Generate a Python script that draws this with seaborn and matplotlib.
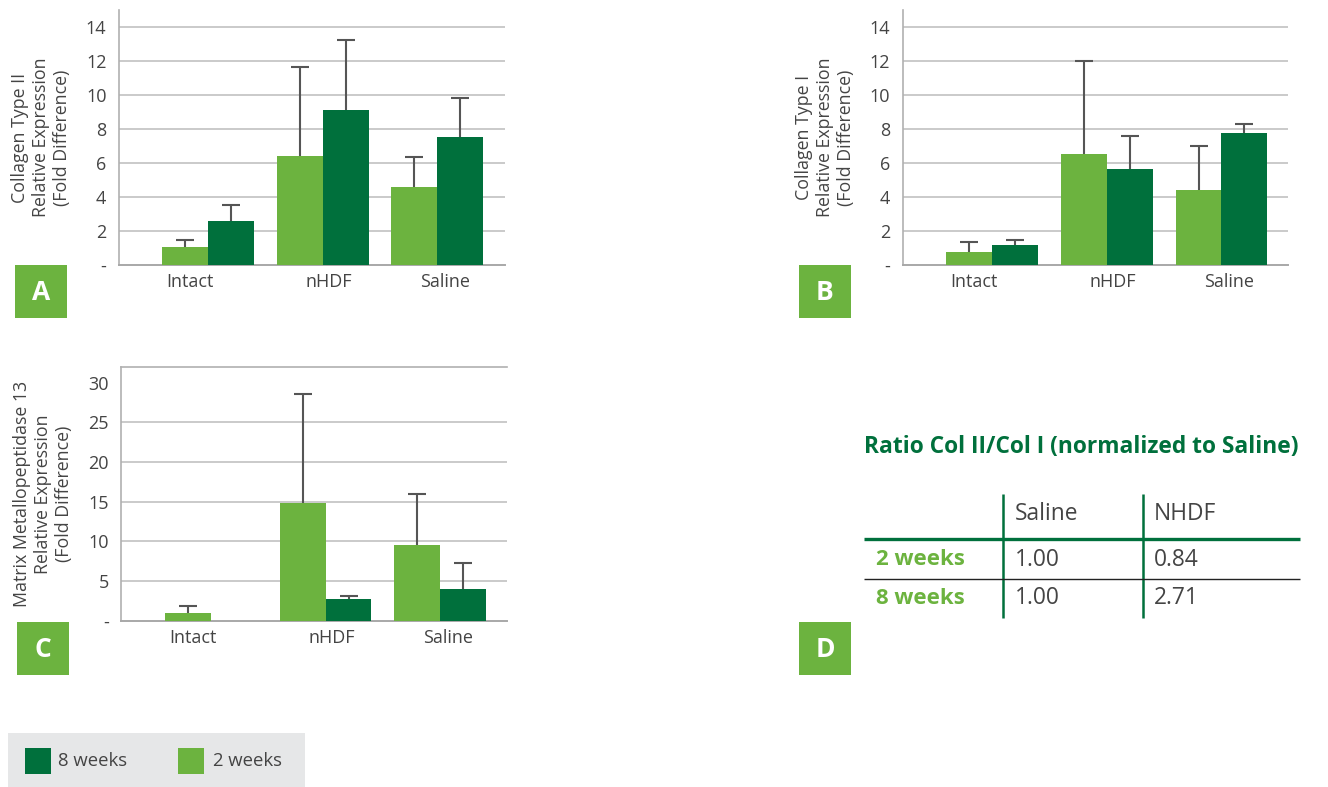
import matplotlib
matplotlib.use("Agg")
import matplotlib.pyplot as plt
from matplotlib.patches import Rectangle
from matplotlib.ticker import FuncFormatter
import numpy as np
import pandas as pd
import seaborn as sns

# ---------------------------------------------------------------- data
sites = ["Intact", "nHDF", "Saline"]
timepoints = ["2 weeks", "8 weeks"]

# Collagen type II (fold difference), mean and upper error
col2_2wk = [1.04, 6.40, 4.56]
col2_2wk_err = [0.46, 5.27, 1.80]
col2_8wk = [2.56, 9.10, 7.52]
col2_8wk_err = [0.96, 4.12, 2.33]

# Collagen type I
col1_2wk = [0.75, 6.52, 4.41]
col1_2wk_err = [0.58, 5.47, 2.60]
col1_8wk = [1.20, 5.62, 7.76]
col1_8wk_err = [0.29, 1.96, 0.52]

# Matrix metallopeptidase 13
mmp_2wk = [1.00, 14.85, 9.55]
mmp_2wk_err = [0.80, 13.80, 6.40]
mmp_8wk = [0.00, 2.75, 4.00]
mmp_8wk_err = [np.nan, 0.40, 3.30]

# Ratio table (panel D)
ratio_rows = ["2 weeks", "8 weeks"]
ratio_cols = ["Saline", "NHDF"]
ratio_vals = [[1.00, 0.84], [1.00, 2.71]]

legend_labels = ["8 weeks", "2 weeks"]

# ---------------------------------------------------------------- style
LIGHT = "#6cb33f"
DARK = "#00703c"
TEXT = "#444444"
GRID = "#c6c6c6"
ERR = "#555555"

sns.set_theme(style="white")
plt.rcParams["font.family"] = ["Open Sans", "DejaVu Sans"]

W, H = 1328, 787
fig = plt.figure(figsize=(W / 100, H / 100), dpi=100)
fig.patch.set_facecolor("white")


def rect(l, t, r, b):
    return [l / W, 1 - b / H, (r - l) / W, (b - t) / H]


def frame(v2, e2, v8, e8):
    rows = []
    for s, a, ea, b, eb in zip(sites, v2, e2, v8, e8):
        rows.append(dict(site=s, time="2 weeks", value=a, err=ea))
        rows.append(dict(site=s, time="8 weeks", value=b, err=eb))
    return pd.DataFrame(rows)


def panel(box, df, ylim, ticks, xlim, ylabel, label_x, hidden_grid=(), top_line=False):
    ax = fig.add_axes(rect(*box))
    sns.barplot(data=df, x="site", y="value", hue="time", order=sites,
                hue_order=timepoints, palette=[LIGHT, DARK], width=0.8,
                errorbar=None, saturation=1, legend=False, ax=ax,
                linewidth=0, zorder=3)
    # upper-only error bars: stem from the bar top plus a single cap
    for level, container in zip(timepoints, ax.containers):
        sub = df[df.time == level].set_index("site").loc[sites]
        for bar, err in zip(container, sub["err"]):
            if np.isnan(err):
                continue
            x = bar.get_x() + bar.get_width() / 2
            top = bar.get_height() + err
            ax.vlines(x, bar.get_height(), top, color=ERR, lw=1.5, zorder=2)
            ax.plot([x], [top], marker="_", markersize=13, mew=1.5,
                    color=ERR, zorder=2)
    ax.set_ylim(*ylim)
    ax.set_xlim(*xlim)
    ax.set_yticks(ticks)
    ax.yaxis.set_major_formatter(
        FuncFormatter(lambda v, p: "-" if v == 0 else f"{v:g}"))
    ax.set_xticks([-0.16, 1.05, 2.07])
    ax.set_xticklabels(sites)
    ax.tick_params(axis="both", length=0, colors=TEXT, labelsize=13)
    ax.tick_params(axis="y", pad=9)
    ax.tick_params(axis="x", pad=6)
    ax.set_xlabel("")
    ax.set_ylabel(ylabel, fontsize=12.8, color=TEXT, linespacing=1.2,
                  va="center", ha="center")
    ax.yaxis.set_label_coords(label_x, 0.5)
    ax.yaxis.grid(True, color=GRID, lw=1.3)
    ax.set_axisbelow(True)
    for i in hidden_grid:
        ax.yaxis.get_gridlines()[i].set_visible(False)
    ax.yaxis.get_gridlines()[0].set_visible(False)
    ax.spines["right"].set_visible(False)
    ax.spines["top"].set_visible(top_line)
    ax.spines["top"].set_color("#b0b0b0")
    ax.spines["top"].set_linewidth(1.2)
    ax.spines["left"].set_color("#b0b0b0")
    ax.spines["left"].set_linewidth(1.2)
    ax.spines["bottom"].set_color("#a8a8a8")
    ax.spines["bottom"].set_linewidth(1.4)
    ax.set_facecolor("none")
    return ax


panel((119, 10, 505, 265), frame(col2_2wk, col2_2wk_err, col2_8wk, col2_8wk_err),
      (0, 15), np.arange(0, 15, 2), (-0.776, 2.59),
      "Collagen Type II\nRelative Expression\n(Fold Difference)", (41 - 119) / 386)
panel((902.7, 10, 1288, 265), frame(col1_2wk, col1_2wk_err, col1_8wk, col1_8wk_err),
      (0, 15), np.arange(0, 15, 2), (-0.779, 2.58),
      "Collagen Type I\nRelative Expression\n(Fold Difference)", (825 - 902.7) / 385.3)
panel((121.3, 367, 506.7, 620.7), frame(mmp_2wk, mmp_2wk_err, mmp_8wk, mmp_8wk_err),
      (0, 32), np.arange(0, 31, 5), (-0.783, 2.58),
      "Matrix Metallopeptidase 13\nRelative Expression\n(Fold Difference)",
      (43 - 121.3) / 385.4, hidden_grid=(-1,), top_line=True)

# ---------------------------------------------------------------- overlay: letters, table, legend
ov = fig.add_axes([0, 0, 1, 1], zorder=-1)
ov.set_xlim(0, W)
ov.set_ylim(H, 0)
ov.axis("off")

for letter, (l, t) in zip("ABCD", [(15, 265), (799, 265), (17, 622), (799, 622)]):
    ov.add_patch(Rectangle((l, t), 52, 53, color=LIGHT, lw=0))
    ov.text(l + 26, t + 27.5, letter, color="white", fontsize=19,
            fontweight="bold", ha="center", va="center")

# Panel D: ratio table
ov.text(1081, 447, "Ratio Col II/Col I (normalized to Saline)", color=DARK,
        fontsize=16.4, fontweight="bold", ha="center", va="center")
col_x = [1015, 1154]
col_lines = [1003.3, 1143.3]
row_y = [559.5, 598]
for x in col_lines:
    ov.plot([x, x], [494, 617.5], color=DARK, lw=1.8, solid_capstyle="butt")
ov.plot([864, 1300], [538.5, 538.5], color=DARK, lw=2.4, solid_capstyle="butt")
ov.plot([864, 1300], [578.5, 578.5], color="#222222", lw=1.0, solid_capstyle="butt")
for x, c in zip(col_x, ratio_cols):
    ov.text(x, 514, c, color=TEXT, fontsize=16.4, ha="left", va="center")
for y, r, vals in zip(row_y, ratio_rows, ratio_vals):
    ov.text(876, y, r, color=LIGHT, fontsize=16, fontweight="bold",
            ha="left", va="center")
    for x, v in zip(col_x, vals):
        ov.text(x, y, f"{v:.2f}", color=TEXT, fontsize=16.4, ha="left",
                va="center")

# Legend strip
ov.add_patch(Rectangle((8, 733), 297, 54, color="#e6e7e8", lw=0))
for (sx, tx), lab, colr in zip([(25, 58), (178, 213)], legend_labels, [DARK, LIGHT]):
    ov.add_patch(Rectangle((sx, 748), 26, 26, color=colr, lw=0))
    ov.text(tx, 761, lab, color=TEXT, fontsize=13.3, ha="left", va="center")

fig.savefig("out.png", dpi=100, facecolor="white")
